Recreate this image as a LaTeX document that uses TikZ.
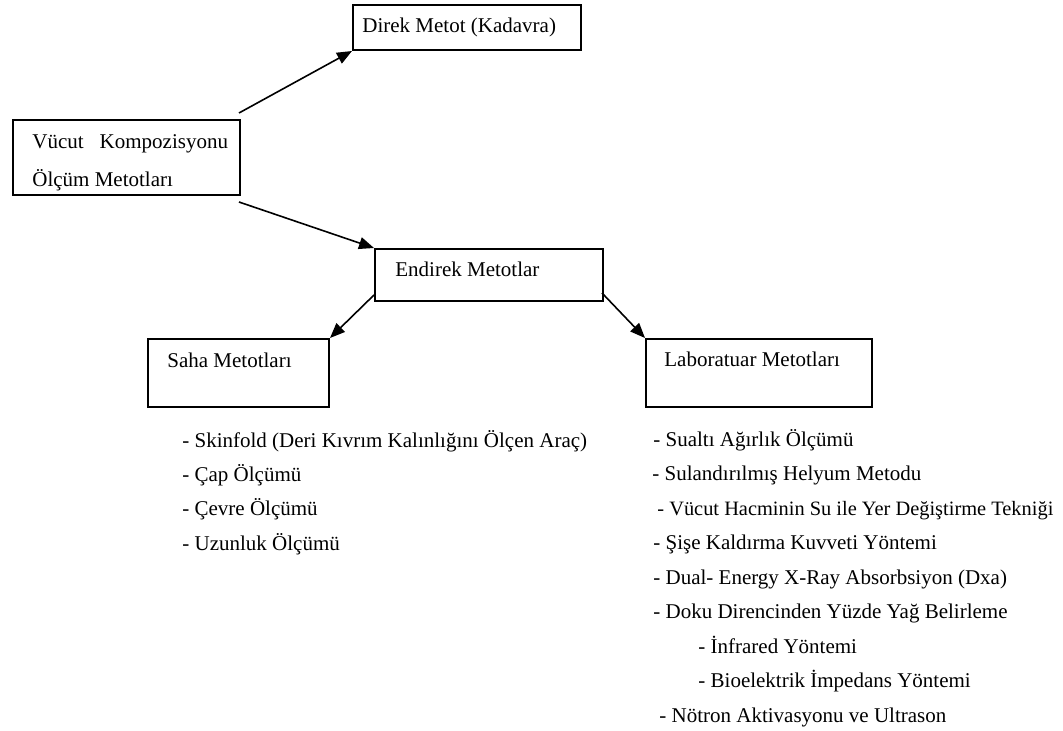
\documentclass[tikz,border=0pt]{standalone}
\usepackage{fontspec}
\setmainfont{Liberation Serif}
\usetikzlibrary{arrows.meta}

\begin{document}
\begin{tikzpicture}[x=0.5pt,y=-0.5pt,
    box/.style={draw,line width=1pt,inner sep=0pt,anchor=north west},
    txt/.style={anchor=west,inner sep=0pt,text height=7.6pt,text depth=2.4pt,
      font=\fontsize{10.5}{12}\selectfont},
    arr/.style={-{Triangle[length=7.5pt,width=6pt]},line width=0.8pt}]

    \useasboundingbox (0,0) rectangle (1063,731);

    % body composition
    \node[box,minimum width=113.5pt,minimum height=37.5pt] (vucut) at (12,119) {};
    \node[txt] (vucut1) at (32,143) {Vücut\hspace{8pt}Kompozisyonu};
    \node[txt] (vucut2) at (32,181) {Ölçüm Metotları};

    % direct method
    \node[box,minimum width=114pt,minimum height=22.5pt] (direk) at (352,4) {};
    \node[txt] (direktxt) at (362,27) {Direk Metot (Kadavra)};
    \coordinate (v1) at (239,113);
    \draw[arr] (v1) to (direk.south west);

    % indirect methods
    \node[box,minimum width=114pt,minimum height=26pt] (endirek) at (374,248) {};
    \node[txt] (endirektxt) at (395,271) {Endirek Metotlar};
    \coordinate (v2) at (239,202);
    \draw[arr] (v2) to (endirek.north west);

    %%%%%%%%%%%%%%%%%%%%%%%%%%%%%%%%%%%%%%%%%%%%%%%%%%%%%%%%%

    % field methods
    \node[box,minimum width=90.5pt,minimum height=34pt] (saha) at (147,338) {};
    \node[txt] (sahatxt) at (167,362) {Saha Metotları};
    \coordinate (e1) at (374,295);
    \draw[arr] (e1) to (saha.north east);

    \node[txt] (s1) at (182,442) {- Skinfold (Deri Kıvrım Kalınlığını Ölçen Araç)};
    \node[txt] (s2) at (182,476) {- Çap Ölçümü};
    \node[txt] (s3) at (182,510) {- Çevre Ölçümü};
    \node[txt] (s4) at (182,545) {- Uzunluk Ölçümü};

    % laboratory methods
    \node[box,minimum width=113pt,minimum height=34pt] (lab) at (645,338) {};
    \node[txt] (labtxt) at (664,361) {Laboratuar Metotları};
    \coordinate (e2) at (602,293);
    \draw[arr] (e2) to (lab.north west);

    \node[txt] (l1) at (653,441) {- Sualtı Ağırlık Ölçümü};
    \node[txt] (l2) at (652,475) {- Sulandırılmış Helyum Metodu};
    \node[txt,font=\fontsize{10.2}{12}\selectfont] (l3) at (657,510) {- Vücut Hacminin Su ile Yer Değiştirme Tekniği};
    \node[txt] (l4) at (653,544) {- Şişe Kaldırma Kuvveti Yöntemi};
    \node[txt] (l5) at (653,579) {- Dual- Energy X-Ray Absorbsiyon (Dxa)};
    \node[txt] (l6) at (653,613) {- Doku Direncinden Yüzde Yağ Belirleme};
    \node[txt] (l7) at (698,648) {- İnfrared Yöntemi};
    \node[txt] (l8) at (698,682) {- Bioelektrik İmpedans Yöntemi};
    \node[txt] (l9) at (659,717) {- Nötron Aktivasyonu ve Ultrason};

\end{tikzpicture}
\end{document}
